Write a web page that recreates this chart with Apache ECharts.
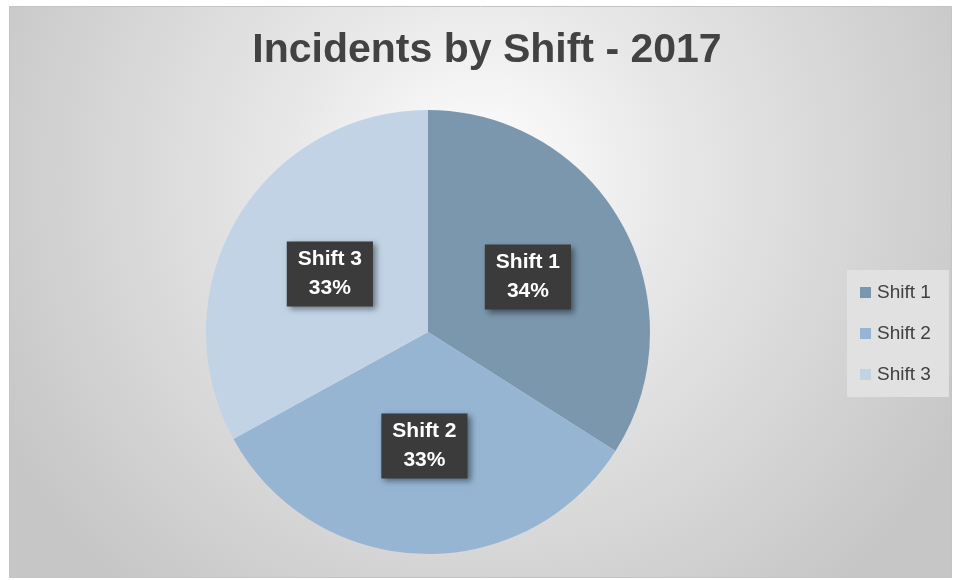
<!DOCTYPE html>
<html>
<head>
<meta charset="utf-8">
<script src="https://cdn.jsdelivr.net/npm/echarts@6/dist/echarts.min.js"></script>
<style>
  html, body { margin: 0; padding: 0; background: #fff; }
  #main { width: 954px; height: 580px; }
</style>
</head>
<body>
<div id="main"></div>
<script>
// Chart data
const shifts = ["Shift 1", "Shift 2", "Shift 3"];
const shares = [34, 33, 33];
const shiftColors = ["#7b97ae", "#95b5d3", "#c1d3e5"];

const chart = echarts.init(document.getElementById("main"));

const pieData = shifts.map((name, i) => ({
  name: name,
  value: shares[i],
  itemStyle: { color: shiftColors[i] },
}));

const option = {
  animation: false,
  graphic: [
    {
      type: "rect",
      z: -10,
      shape: { x: 9.5, y: 6.5, width: 942, height: 571 },
      style: {
        fill: new echarts.graphic.RadialGradient(0.5, 0.3, 0.95, [
          { offset: 0, color: "#ffffff" },
          { offset: 0.35, color: "#e8e8e8" },
          { offset: 1, color: "#c6c6c6" },
        ]),
        stroke: "#c4c4c4",
        lineWidth: 1,
      },
    },
  ],
  title: {
    text: "Incidents by Shift - 2017",
    left: 482,
    textAlign: "center",
    top: 25,
    textStyle: {
      fontFamily: "'Liberation Sans', sans-serif",
      fontWeight: "bold",
      fontSize: 41,
      color: "#424242",
    },
  },
  legend: {
    orient: "vertical",
    left: 847,
    top: 270,
    itemWidth: 11,
    itemHeight: 11,
    itemGap: 22,
    padding: [13, 18, 13, 13],
    backgroundColor: "#e1e1e1",
    icon: "rect",
    data: shifts,
    textStyle: {
      fontFamily: "'Liberation Sans', sans-serif",
      fontSize: 19,
      color: "#404040",
      padding: [0, 0, 0, 1],
    },
  },
  series: [
    {
      type: "pie",
      center: [428, 332],
      radius: 222,
      startAngle: 90,
      clockwise: true,
      data: pieData,
      label: {
        show: true,
        position: "inside",
        formatter: "{b}\n{d}%",
        color: "#ffffff",
        fontFamily: "'Liberation Sans', sans-serif",
        fontWeight: "bold",
        fontSize: 21,
        lineHeight: 29,
        backgroundColor: "#3b3b3b",
        padding: [4, 11, 3, 11],
        shadowColor: "rgba(0,0,0,0.45)",
        shadowBlur: 6,
        shadowOffsetX: 3,
        shadowOffsetY: 3,
      },
      labelLine: { show: false },
      emphasis: { disabled: true },
    },
  ],
};

chart.setOption(option);
window.addEventListener("resize", chart.resize);
</script>
</body>
</html>
